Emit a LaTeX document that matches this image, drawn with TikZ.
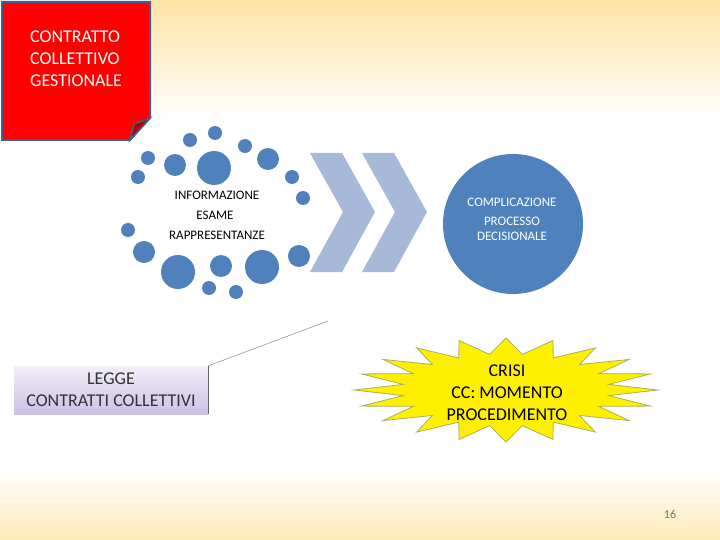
\documentclass[tikz,border=0pt]{standalone}
\usepackage{fontspec}
\setmainfont{Carlito}
\usetikzlibrary{positioning}

\definecolor{dotblue}{HTML}{4F81BD}
\definecolor{chevblue}{HTML}{A7B9D8}
\definecolor{boxred}{HTML}{FF0000}
\definecolor{boxedge}{HTML}{3F5F8F}
\definecolor{lilac}{HTML}{CCC0E6}
\definecolor{sunny}{HTML}{FFF000}
\definecolor{sunedge}{HTML}{A8B060}

\tikzset{
	dot/.style={fill=dotblue},
	smalltxt/.style={font=\fontsize{13}{15}\selectfont, align=center},
	bigtxt/.style={font=\fontsize{18}{22}\selectfont, align=center},
	chevron/.style={fill=chevblue, draw=none}
}

\begin{document}
\begin{tikzpicture}[x=1pt, y=-1pt]
	\useasboundingbox (0, 0) rectangle (720, 540);
	% background
	\fill[white] (0, 0) rectangle (720, 540);
	\shade[top color=yellow!35!orange!35, bottom color=white] (150, 0) rectangle (720, 120);
	\shade[top color=white, bottom color=yellow!40!orange!28] (0, 470) rectangle (720, 540);

	% red note
	\draw[fill=boxred, draw=boxedge, line width=2pt] (2, 2) -- (150, 2) -- (150, 118) -- (130, 140) -- (2, 140) -- cycle;
	\draw[fill=boxred!70!black, draw=boxedge, line width=1.5pt] (130, 140) -- (134, 124) -- (150, 118) -- cycle;
	\node[bigtxt, text=white, align=left, anchor=north west, inner sep=0pt] (note) at (30, 31) {CONTRATTO\\COLLETTIVO\\GESTIONALE};

	% ring of dots
	\fill[dot] (215, 133) circle (7);
	\fill[dot] (190, 140) circle (7);
	\fill[dot] (245, 146) circle (7);
	\fill[dot] (148, 158) circle (7);
	\fill[dot] (175, 165) circle (11);
	\fill[dot] (214, 168) circle (17);
	\fill[dot] (268, 159) circle (11);
	\fill[dot] (138, 177) circle (7);
	\fill[dot] (292, 177) circle (7);
	\fill[dot] (303, 198) circle (7);
	\fill[dot] (128, 230) circle (7);
	\fill[dot] (144, 252) circle (11);
	\fill[dot] (178, 272) circle (17);
	\fill[dot] (221, 266) circle (11);
	\fill[dot] (262, 267) circle (17);
	\fill[dot] (299, 256) circle (11);
	\fill[dot] (209, 288) circle (7);
	\fill[dot] (236, 292) circle (7);

	\node[smalltxt] (info) at (217, 195) {INFORMAZIONE};
	\node[smalltxt] (esame) at (215, 215) {ESAME};
	\node[smalltxt] (rappr) at (217, 235) {RAPPRESENTANZE};

	% chevrons
	\fill[chevron] (310, 153) -- (342, 153) -- (375, 212) -- (342, 272) -- (310, 272) -- (343, 212) -- cycle;
	\fill[chevron] (362, 153) -- (394, 153) -- (427, 212) -- (394, 272) -- (362, 272) -- (395, 212) -- cycle;

	% big circle
	\node[circle, fill=dotblue, minimum size=140pt, inner sep=0pt] (cmp) at (513, 224) {};
	\node[smalltxt, text=white] (cmptxt) at (512, 202) {COMPLICAZIONE};
	\node[smalltxt, text=white] (proc) at (512, 229) {PROCESSO\\DECISIONALE};

	% law box
	\node[bigtxt, text=black!80, minimum width=194pt, minimum height=48pt,
		top color=lilac!25, bottom color=lilac, inner sep=0pt] (legge) at (111, 390) {LEGGE\\CONTRATTI COLLETTIVI};
	\draw[black!60] (legge.south east) -- (legge.north east);
	\coordinate (tip) at (328, 321);
	\draw[black!55, thin] (legge.north east) -- (tip);

	% crisis burst
	\draw[fill=sunny, draw=sunedge, line width=0.8pt]
		plot[samples at={0,9,...,351}, variable=\t]
		({506 + (104 + 48*(1-mod(round(\t/9),2)))*cos(\t)}, {390 + (36 + 16*(1-mod(round(\t/9),2)))*sin(\t)}) -- cycle;
	\node[bigtxt] (crisi) at (507, 393) {CRISI\\CC: MOMENTO\\PROCEDIMENTO};

	% page number
	\node[text=black!55, font=\fontsize{12}{14}\selectfont] (page) at (670, 514) {16};
\end{tikzpicture}
\end{document}
